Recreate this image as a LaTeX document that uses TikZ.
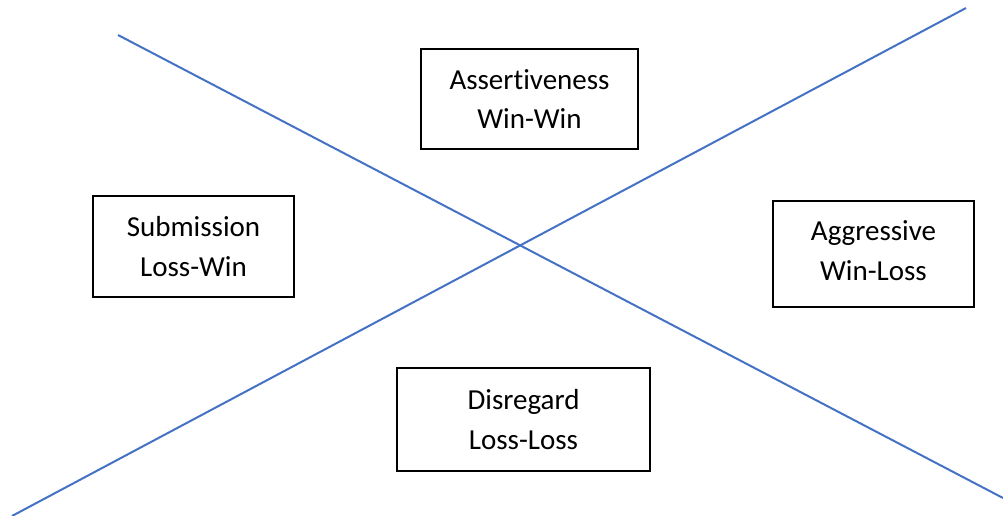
\documentclass[tikz,border=0pt]{standalone}
\usepackage{fontspec}
\setmainfont[Ligatures=NoCommon,RawFeature={-liga;-calt}]{Carlito}
\definecolor{lineblue}{RGB}{68,114,196}
\begin{document}
\begin{tikzpicture}[x=1pt,y=-1pt,
  quadtext/.style={align=center,inner sep=0pt,font=\fontsize{29}{39.5}\selectfont},
  quad/.style={quadtext,draw=black,line width=1.5pt,fill=white},
  diag/.style={draw=lineblue,line width=2pt}]
\useasboundingbox (0,0) rectangle (1003,516);
\fill[white] (0,0) rectangle (1003,516);
\coordinate (l1a) at (118,35);
\coordinate (l1b) at (1003,498);
\coordinate (l2a) at (966,8);
\coordinate (l2b) at (12,516);
\draw[diag] (l1a) -- (l1b);
\draw[diag] (l2a) -- (l2b);
\node[quad,minimum width=217pt,minimum height=100pt] (assert) at (529.5,99) {Assert\kern0pt iveness\\Win-Win};
\node[quad,minimum width=201pt,minimum height=101pt] (submit) at (193.5,246.5) {Submission\\Loss-Win};
\node[quad,minimum width=201pt,minimum height=106pt] (aggr) at (873.5,254) {};
\node[quadtext] (aggrtext) at (873.5,250.5) {Aggressive\\Win-Loss};
\node[quad,minimum width=253pt,minimum height=103pt] (disr) at (523.5,419.5) {Disregard\\Loss-Loss};
\end{tikzpicture}
\end{document}
